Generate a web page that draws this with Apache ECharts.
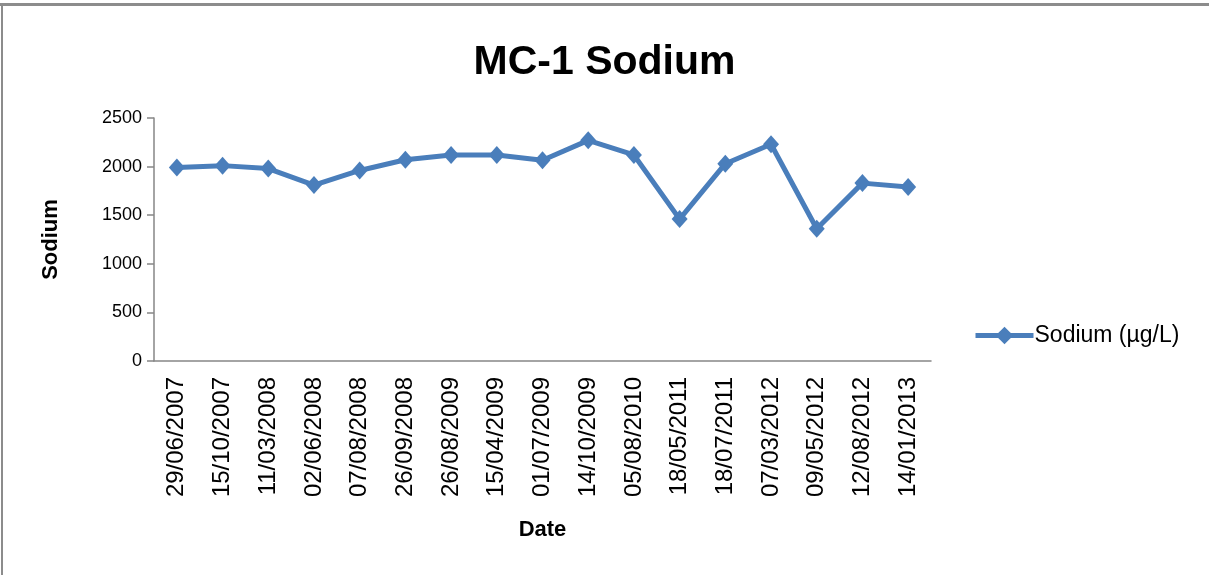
<!DOCTYPE html>
<html>
<head>
<meta charset="utf-8">
<script src="https://cdn.jsdelivr.net/npm/echarts@6/dist/echarts.min.js"></script>
<style>
  html, body { margin: 0; padding: 0; background: #fff; }
  #chart { width: 1209px; height: 575px; }
</style>
</head>
<body>
<div id="chart"></div>
<script>
    // sample dates and sodium readings (µg/L)
    const dates = ['29/06/2007', '15/10/2007', '11/03/2008', '02/06/2008', '07/08/2008',
        '26/09/2008', '26/08/2009', '15/04/2009', '01/07/2009', '14/10/2009', '05/08/2010',
        '18/05/2011', '18/07/2011', '07/03/2012', '09/05/2012', '12/08/2012', '14/01/2013'];
    const sodium = [1990, 2010, 1980, 1810, 1960, 2070, 2120, 2120, 2065, 2270, 2120,
        1460, 2030, 2230, 1360, 1830, 1790];
    const yTicks = { min: 0, max: 2500, interval: 500 };

    const font = 'Liberation Sans, Arial, sans-serif';
    const axisGray = '#868686';
    const blue = '#4A7EBB';

    let chart = echarts.init(document.getElementById('chart'));
    let option = {
        animation: false,
        title: {
            text: 'MC-1 Sodium',
            left: 'center',
            top: 37,
            textStyle: { fontFamily: font, fontSize: 41, fontWeight: 'bold', color: '#000' }
        },
        legend: {
            data: ['Sodium (µg/L)'],
            left: 968,
            top: 319,
            itemWidth: 58,
            itemHeight: 22,
            itemGap: 2,
            lineStyle: { width: 5, color: blue },
            itemStyle: { color: blue },
            textStyle: { fontFamily: font, fontSize: 23, color: '#000', padding: [0, 0, 0, -4] }
        },
        grid: { left: 154, right: 278, top: 118, bottom: 214, containLabel: false },
        xAxis: {
            type: 'category',
            data: dates,
            boundaryGap: true,
            name: 'Date',
            nameLocation: 'middle',
            nameGap: 158,
            nameTextStyle: { fontFamily: font, fontSize: 22, fontWeight: 'bold', color: '#000' },
            axisLine: { lineStyle: { color: axisGray, width: 1.5 } },
            axisTick: { alignWithLabel: false, length: 7, lineStyle: { color: axisGray, width: 1.5 } },
            axisLabel: { rotate: 90, margin: 16, interval: 0, fontFamily: font, fontSize: 24, color: '#000' },
            splitLine: { show: false }
        },
        yAxis: {
            type: 'value',
            min: yTicks.min,
            max: yTicks.max,
            interval: yTicks.interval,
            name: 'Sodium',
            nameLocation: 'middle',
            nameGap: 92,
            nameTextStyle: { fontFamily: font, fontSize: 22, fontWeight: 'bold', color: '#000' },
            axisLine: { show: true, lineStyle: { color: axisGray, width: 1.5 } },
            axisTick: { show: true, length: 7, lineStyle: { color: axisGray, width: 1.5 } },
            axisLabel: { margin: 12, fontFamily: font, fontSize: 18, color: '#000', formatter: v => String(v) },
            splitLine: { show: false }
        },
        series: [
            {
                name: 'Sodium (µg/L)',
                type: 'line',
                data: sodium,
                symbol: 'diamond',
                symbolSize: [16, 18],
                lineStyle: { color: blue, width: 5 },
                itemStyle: { color: blue }
            }
        ],
        graphic: [
            { type: 'rect', shape: { x: 0, y: 3, width: 1209, height: 3 }, style: { fill: '#8c8c8c' } },
            { type: 'rect', shape: { x: 1, y: 3, width: 2, height: 572 }, style: { fill: '#8c8c8c' } }
        ]
    };
    chart.setOption(option);
</script>
</body>
</html>
